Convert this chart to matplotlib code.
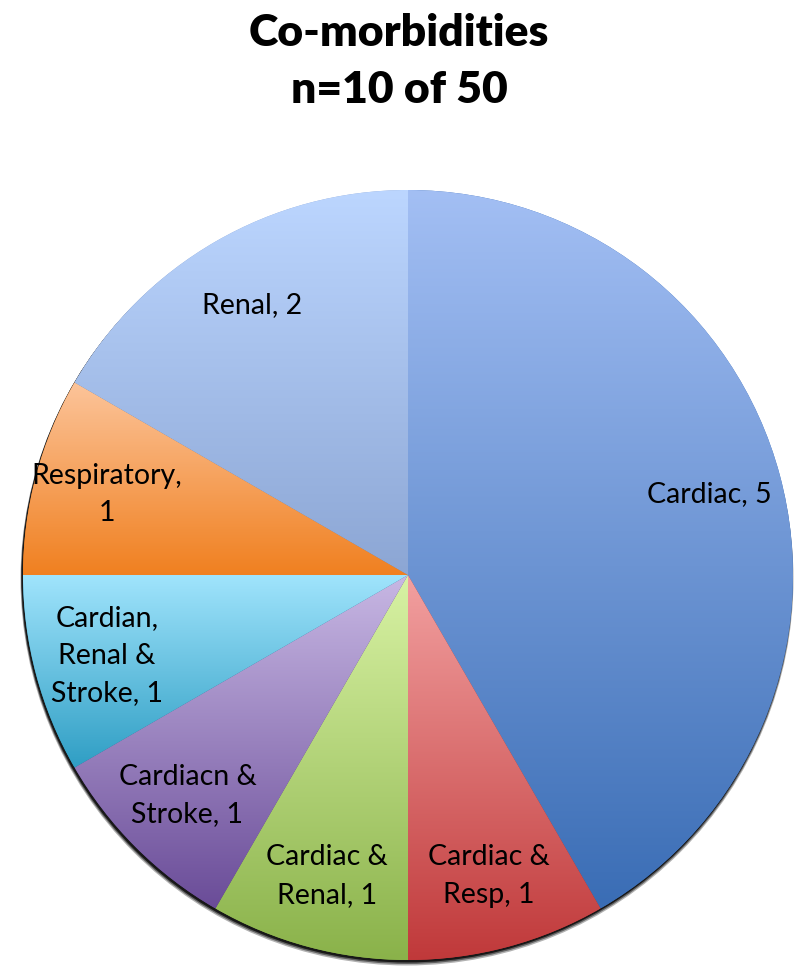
import numpy as np
import matplotlib
matplotlib.use("Agg")
import matplotlib.pyplot as plt
from matplotlib.patches import Circle
from matplotlib.colors import to_rgb

# Daten
kategorien = ["Cardiac, 5", "Cardiac &\nResp, 1", "Cardiac &\nRenal, 1",
              "Cardiacn &\nStroke, 1", "Cardian,\nRenal &\nStroke, 1",
              "Respiratory,\n1", "Renal, 2"]
werte = [5, 1, 1, 1, 1, 1, 2]
farben_oben = ["#a3bff4", "#f2a0a0", "#d8f2a4", "#c8b8e4", "#a0e4fc", "#fcc49a", "#bcd6ff"]
farben_unten = ["#3a6db5", "#c0393a", "#8ab24a", "#6a4c98", "#2f9ec4", "#f08020", "#8ca6d4"]

W, H = 798, 977
fig = plt.figure(figsize=(W / 100, H / 100), dpi=100)
ax = fig.add_axes([0, 0, 1, 1])

mitte = (408, H - 575)
radius = 385

# Schatten unten
for i, a in enumerate([0.3, 0.45, 0.75]):
    ax.add_patch(Circle((mitte[0] - 1, mitte[1] - 4 + i), radius + 1.5 - i * 0.5,
                        facecolor="black", edgecolor="none", alpha=a, zorder=0))

wedges, texts = ax.pie(werte, labels=kategorien, startangle=90, counterclock=False,
                       radius=radius, center=mitte, labeldistance=0.81,
                       colors=farben_unten, wedgeprops=dict(linewidth=0),
                       textprops=dict(fontsize=20.5, family="Lato", color="black"))

# Farbverlauf je Segment
for w, c1, c2 in zip(wedges, farben_oben, farben_unten):
    bb = w.get_path().get_extents()
    t = np.linspace(0, 1, 256)[:, None, None]
    grad = (1 - t) * np.array(to_rgb(c1)) + t * np.array(to_rgb(c2))
    im = ax.imshow(grad, extent=[bb.x0, bb.x1, bb.y0, bb.y1], origin="upper",
                   aspect="auto", zorder=1, interpolation="bilinear")
    im.set_clip_path(w)

for t in texts:
    t.set_ha("center")
    t.set_va("center")
    t.set_multialignment("center")
    t.set_zorder(3)
    t.set_linespacing(1.55)

ax.set_xlim(0, W)
ax.set_ylim(0, H)
ax.set_aspect("equal")
ax.axis("off")

fig.text(0.5, 1 - 33 / H, "Co-morbidities", ha="center", va="center",
         fontsize=32, family="Lato", fontweight="heavy")
fig.text(0.5, 1 - 90 / H, "n=10 of 50", ha="center", va="center",
         fontsize=32, family="Lato", fontweight="heavy")

plt.savefig("out.png", dpi=100)
